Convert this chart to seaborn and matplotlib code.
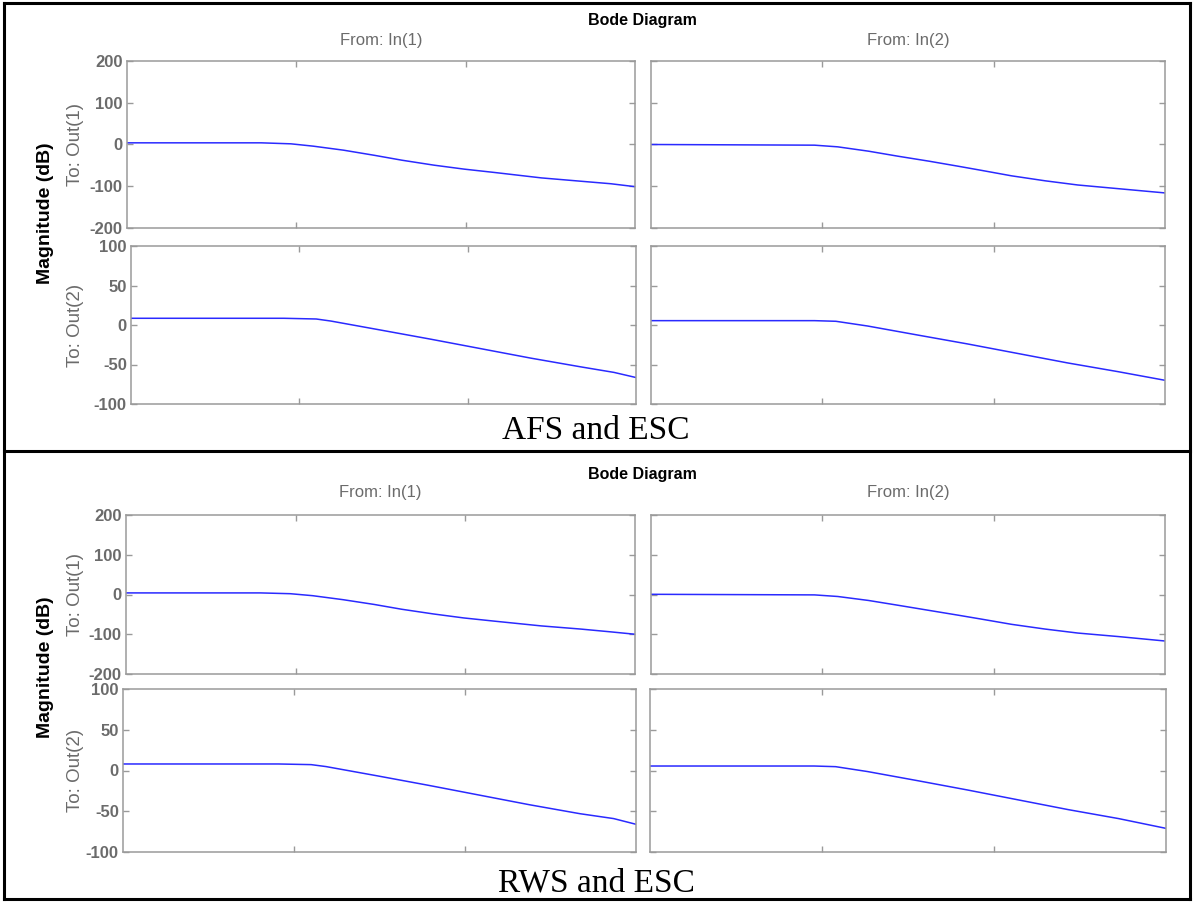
import matplotlib
matplotlib.use("Agg")
import matplotlib.pyplot as plt
import numpy as np
import pandas as pd
import seaborn as sns
from matplotlib.lines import Line2D

# ---- data: frequency (rad/s) and magnitude (dB) for each channel ----
w_11 = [0.1, 0.62, 0.93, 1.26, 1.9, 2.9, 4.2, 6.5, 9.8, 14.8, 28, 48, 72, 100]
w_12 = [0.1, 0.90, 1.23, 1.86, 2.76, 4.2, 6.2, 8.5, 12.7, 20, 31, 54, 100]
w_21 = [0.1, 0.81, 1.26, 1.54, 3.06, 6.05, 12, 23.8, 47, 74, 100]
w_22 = [0.1, 0.90, 1.2, 1.84, 3.6, 7.05, 13.8, 27, 53, 100]

afs_11 = [4, 4, 1.6, -4, -13.6, -26, -37.6, -49.5, -59, -67, -80, -88, -94, -101]
afs_12 = [0, -1.6, -5.6, -16, -28, -40, -52, -62, -75, -87, -97, -106, -116]
afs_21 = [8.5, 8.5, 7.6, 5, -6.5, -18, -30, -42, -53, -60, -66.5]
afs_22 = [5.5, 5.5, 4.7, -1.3, -12.7, -24, -36, -48, -59, -70]

rws_11 = [4, 4, 2, -3, -13, -25, -37, -49, -59, -67, -79, -87, -94, -100]
rws_12 = [0.5, -1, -5, -15, -27, -40, -52, -62, -75, -87, -97, -106, -117]
rws_21 = [8, 8, 7.2, 4.8, -6.5, -18, -30, -42, -53, -59, -66]
rws_22 = [5.5, 5.5, 4.7, -1.3, -12.5, -24, -36, -48, -59, -71]

out1_ticks = [-200, -100, 0, 100, 200]
out2_ticks = [-100, -50, 0, 50, 100]
captions = ["AFS and ESC", "RWS and ESC"]

sns.set_theme(style="white")
plt.rcParams["font.family"] = ["Liberation Sans", "DejaVu Sans"]

W, H = 1193, 902
fig = plt.figure(figsize=(W / 100, H / 100), dpi=100)
fig.patch.set_facecolor("white")

SPINE = "#9a9a9a"
TXT = "#6b6b6b"
LINE = "#2a2aff"


def box(x0, y0, x1, y1):
    return [x0 / W, 1 - y1 / H, (x1 - x0) / W, (y1 - y0) / H]


def panel(rect, w, mag, yticks, show_labels):
    ax = fig.add_axes(rect)
    df = pd.DataFrame({"w": w, "mag": mag})
    sns.lineplot(data=df, x="w", y="mag", ax=ax, color=LINE, linewidth=1.1)
    ax.set_xscale("log")
    ax.set_xlim(0.1, 100)
    ax.set_ylim(yticks[0], yticks[-1])
    ax.set_xticks([1, 10])
    ax.set_xticks([], minor=True)
    ax.set_xticklabels([])
    ax.set_yticks(yticks)
    if show_labels:
        ax.set_yticklabels([str(t) for t in yticks], color=TXT,
                           fontsize=12, fontweight="bold")
    else:
        ax.set_yticklabels([])
    ax.set_xlabel("")
    ax.set_ylabel("")
    ax.tick_params(axis="both", which="major", direction="in", length=4,
                   width=1, color=SPINE, top=True, right=True,
                   bottom=True, left=True, pad=3)
    for s in ax.spines.values():
        s.set_color(SPINE)
        s.set_linewidth(1.1)
    ax.grid(False)
    ax.set_facecolor("white")
    return ax


blocks = [
    dict(data=(afs_11, afs_12, afs_21, afs_22),
         rects=((127, 61, 635, 228), (651, 61, 1165, 228),
                (131, 246, 636, 404), (651, 246, 1165, 404)),
         title_y=20, from_y=40, cap_y=431, mag_y=213),
    dict(data=(rws_11, rws_12, rws_21, rws_22),
         rects=((126, 515, 635, 674), (651, 515, 1165, 674),
                (123, 689, 636, 852), (650, 689, 1166, 852)),
         title_y=474, from_y=493, cap_y=883, mag_y=667),
]

ws = (w_11, w_12, w_21, w_22)
tick_sets = (out1_ticks, out1_ticks, out2_ticks, out2_ticks)

for b, cap in zip(blocks, captions):
    for i in range(4):
        panel(box(*b["rects"][i]), ws[i], b["data"][i], tick_sets[i], i % 2 == 0)
    r11, r12, r21, _ = b["rects"]
    fig.text(642 / W, 1 - b["title_y"] / H, "Bode Diagram", ha="center",
             va="center", fontsize=11.5, fontweight="bold", color="black")
    fig.text((r11[0] + r11[2]) / 2 / W, 1 - b["from_y"] / H, "From: In(1)",
             ha="center", va="center", fontsize=12, color=TXT)
    fig.text((r12[0] + r12[2]) / 2 / W, 1 - b["from_y"] / H, "From: In(2)",
             ha="center", va="center", fontsize=12, color=TXT)
    fig.text(75 / W, 1 - (r11[1] + r11[3]) / 2 / H, "To: Out(1)", rotation=90,
             ha="center", va="center", fontsize=13.5, color=TXT)
    fig.text(75 / W, 1 - (r21[1] + r21[3]) / 2 / H, "To: Out(2)", rotation=90,
             ha="center", va="center", fontsize=13.5, color=TXT)
    fig.text(45 / W, 1 - b["mag_y"] / H, "Magnitude (dB)", rotation=90,
             ha="center", va="center", fontsize=14, fontweight="bold",
             color="black")
    fig.text(596 / W, 1 - b["cap_y"] / H, cap, ha="center", va="center",
             fontsize=24, color="black",
             family=["Liberation Serif", "DejaVu Serif"])

# frame around both blocks and the divider between them
lw = 2.2
for (x0, y0, x1, y1) in [(4, 3, 1190, 3), (4, 899, 1190, 899), (4, 3, 4, 899),
                         (1190, 3, 1190, 899), (4, 451, 1190, 451)]:
    fig.add_artist(Line2D([x0 / W, x1 / W], [1 - y0 / H, 1 - y1 / H],
                          color="black", linewidth=lw,
                          transform=fig.transFigure, solid_capstyle="projecting"))

fig.savefig("out.png", dpi=100, facecolor="white")
